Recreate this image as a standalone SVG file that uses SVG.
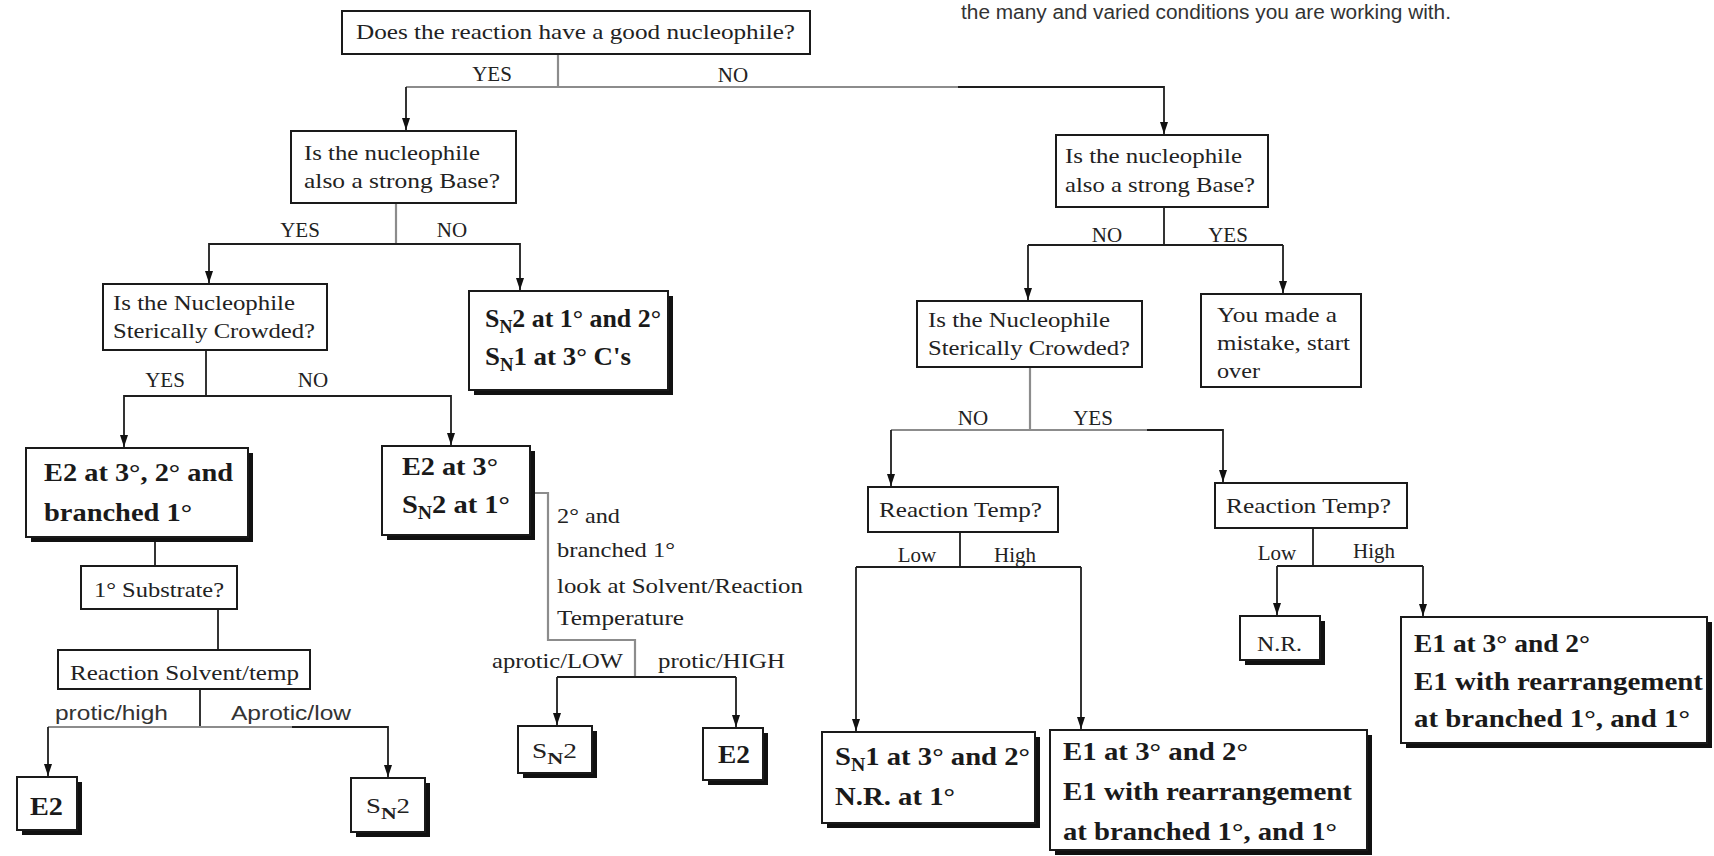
<svg xmlns="http://www.w3.org/2000/svg" width="1714" height="856" viewBox="0 0 1714 856">
<style>
.box{fill:#fff;stroke:#1a1a1a;stroke-width:2}
.sh{fill:#111}
.q{font-family:"Liberation Serif","Times New Roman",serif;font-size:21px;fill:#222}
.b{font-family:"Liberation Serif","Times New Roman",serif;font-weight:bold;font-size:26px;fill:#1a1a1a}
.s{font-family:"Liberation Sans",Arial,sans-serif;font-size:20px;fill:#333}
.m{text-anchor:middle}
.c{fill:none;stroke:#1e1e1e;stroke-width:1.8}
.cg{fill:none;stroke:#8c8c8c;stroke-width:2.2}
.a{marker-end:url(#arr)}
</style>
<defs>
<marker id="arr" viewBox="0 0 12 8" markerWidth="12" markerHeight="8" refX="12" refY="4" orient="auto" markerUnits="userSpaceOnUse">
<path d="M0,0 L12,4 L0,8 z" fill="#111"/>
</marker>
</defs>
<rect width="1714" height="856" fill="#fff"/>
<text class="s" x="961" y="19" font-size="15" textLength="490" lengthAdjust="spacingAndGlyphs">the many and varied conditions you are working with.</text>

<g id="connectors">
<path class="cg" d="M558,54 V87"/>
<path class="cg" d="M558,87 H406"/>
<path class="c a" d="M406,87 V130"/>
<path class="cg" d="M558,87 H958"/>
<path class="c a" d="M958,87 H1164 V134"/>
<path class="cg" d="M396,203 V244"/>
<path class="c a" d="M396,244 H209 V283"/>
<path class="c a" d="M396,244 H520 V290"/>
<path class="c" d="M206,350 V396"/>
<path class="c a" d="M206,396 H124 V447"/>
<path class="c a" d="M206,396 H451 V445"/>
<path class="c" d="M155,537 V566"/>
<path class="c" d="M218,609 V650"/>
<path class="c" d="M200,689 V727"/>
<path class="cg" d="M48,727 H292"/>
<path class="c a" d="M48,727 V776"/>
<path class="c a" d="M292,727 H388 V777"/>
<path class="cg" d="M530,493 H548 V640 H635 V677"/>
<path class="c" d="M557,677 H736"/>
<path class="c a" d="M557,677 V725"/>
<path class="c a" d="M736,677 V727"/>
<path class="c" d="M1164,207 V245"/>
<path class="c" d="M1028,245 H1283"/>
<path class="c a" d="M1028,245 V300"/>
<path class="c a" d="M1283,245 V293"/>
<path class="cg" d="M1030,367 V430"/>
<path class="cg" d="M891,430 H1147"/>
<path class="c a" d="M891,430 V486"/>
<path class="c a" d="M1147,430 H1223 V482"/>
<path class="c" d="M960,532 V567"/>
<path class="c" d="M856,567 H1081"/>
<path class="c a" d="M856,567 V731"/>
<path class="c a" d="M1081,567 V729"/>
<path class="c" d="M1313,528 V566"/>
<path class="c" d="M1277,566 H1423"/>
<path class="c a" d="M1277,566 V615"/>
<path class="c a" d="M1423,566 V616"/>
</g>

<g id="labels">
<text class="q m" x="492" y="81">YES</text>
<text class="q m" x="733" y="82">NO</text>
<text class="q m" x="300" y="237">YES</text>
<text class="q m" x="452" y="237">NO</text>
<text class="q m" x="165" y="387">YES</text>
<text class="q m" x="313" y="387">NO</text>
<text class="q m" x="1107" y="242">NO</text>
<text class="q m" x="1228" y="242">YES</text>
<text class="q m" x="973" y="425">NO</text>
<text class="q m" x="1093" y="425">YES</text>
<text class="q m" x="917" y="562">Low</text>
<text class="q m" x="1015" y="562">High</text>
<text class="q m" x="1277" y="560">Low</text>
<text class="q m" x="1374" y="558">High</text>
<text class="q" x="492" y="668" textLength="131" lengthAdjust="spacingAndGlyphs">aprotic/LOW</text>
<text class="q" x="658" y="668" textLength="127" lengthAdjust="spacingAndGlyphs">protic/HIGH</text>
<text class="s" x="55" y="720" textLength="113" lengthAdjust="spacingAndGlyphs">protic/high</text>
<text class="s" x="231" y="720" textLength="120" lengthAdjust="spacingAndGlyphs">Aprotic/low</text>
<text class="q" x="557" y="523" textLength="63" lengthAdjust="spacingAndGlyphs">2° and</text>
<text class="q" x="557" y="557" textLength="118" lengthAdjust="spacingAndGlyphs">branched 1°</text>
<text class="q" x="557" y="593" textLength="246" lengthAdjust="spacingAndGlyphs">look at Solvent/Reaction</text>
<text class="q" x="557" y="625" textLength="127" lengthAdjust="spacingAndGlyphs">Temperature</text>
</g>

<g id="n-top">
<rect class="box" x="342" y="11" width="468" height="43"/>
<text class="q" x="356" y="39" textLength="439" lengthAdjust="spacingAndGlyphs">Does the reaction have a good nucleophile?</text>
</g>
<g id="n-l1">
<rect class="box" x="291" y="131" width="225" height="72"/>
<text class="q" x="304" y="160" textLength="176" lengthAdjust="spacingAndGlyphs">Is the nucleophile</text>
<text class="q" x="304" y="188" textLength="196" lengthAdjust="spacingAndGlyphs">also a strong Base?</text>
</g>
<g id="n-r1">
<rect class="box" x="1056" y="135" width="212" height="72"/>
<text class="q" x="1065" y="163" textLength="177" lengthAdjust="spacingAndGlyphs">Is the nucleophile</text>
<text class="q" x="1065" y="192" textLength="190" lengthAdjust="spacingAndGlyphs">also a strong Base?</text>
</g>
<g id="n-l3">
<rect class="box" x="103" y="284" width="224" height="66"/>
<text class="q" x="113" y="310" textLength="182" lengthAdjust="spacingAndGlyphs">Is the Nucleophile</text>
<text class="q" x="113" y="338" textLength="202" lengthAdjust="spacingAndGlyphs">Sterically Crowded?</text>
</g>
<g id="n-sn2sn1">
<rect class="sh" x="474" y="296" width="199" height="99"/>
<rect class="box" x="469" y="291" width="199" height="99"/>
<text class="b" x="485" y="327" textLength="176" lengthAdjust="spacingAndGlyphs">S<tspan dy="6" font-size="18">N</tspan><tspan dy="-6">2 at 1° and 2°</tspan></text>
<text class="b" x="485" y="365" textLength="146" lengthAdjust="spacingAndGlyphs">S<tspan dy="6" font-size="18">N</tspan><tspan dy="-6">1 at 3° C's</tspan></text>
</g>
<g id="n-e2left">
<rect class="sh" x="31" y="453" width="222" height="89"/>
<rect class="box" x="26" y="448" width="222" height="89"/>
<text class="b" x="44" y="481" textLength="189" lengthAdjust="spacingAndGlyphs">E2 at 3°, 2° and</text>
<text class="b" x="44" y="521" textLength="148" lengthAdjust="spacingAndGlyphs">branched 1°</text>
</g>
<g id="n-e2at3">
<rect class="sh" x="387" y="451" width="148" height="89"/>
<rect class="box" x="382" y="446" width="148" height="89"/>
<text class="b" x="402" y="475" textLength="96" lengthAdjust="spacingAndGlyphs">E2 at 3°</text>
<text class="b" x="402" y="513" textLength="108" lengthAdjust="spacingAndGlyphs">S<tspan dy="6" font-size="18">N</tspan><tspan dy="-6">2 at 1°</tspan></text>
</g>
<g id="n-sub">
<rect class="box" x="81" y="566" width="156" height="43"/>
<text class="q" x="94" y="597" textLength="130" lengthAdjust="spacingAndGlyphs">1° Substrate?</text>
</g>
<g id="n-solv">
<rect class="box" x="58" y="650" width="252" height="39"/>
<text class="q" x="70" y="680" textLength="229" lengthAdjust="spacingAndGlyphs">Reaction Solvent/temp</text>
</g>
<g id="n-e2bl">
<rect class="sh" x="22" y="782" width="60" height="53"/>
<rect class="box" x="17" y="777" width="60" height="53"/>
<text class="b" x="30" y="815" textLength="33" lengthAdjust="spacingAndGlyphs">E2</text>
</g>
<g id="n-sn2bl">
<rect class="sh" x="356" y="783" width="74" height="54"/>
<rect class="box" x="351" y="778" width="74" height="54"/>
<text class="q" x="366" y="813" font-size="24" textLength="44" lengthAdjust="spacingAndGlyphs">S<tspan dy="6" font-size="17" font-weight="bold">N</tspan><tspan dy="-6">2</tspan></text>
</g>
<g id="n-sn2m">
<rect class="sh" x="523" y="731" width="74" height="47"/>
<rect class="box" x="518" y="726" width="74" height="47"/>
<text class="q" x="532" y="758" font-size="24" textLength="45" lengthAdjust="spacingAndGlyphs">S<tspan dy="6" font-size="17" font-weight="bold">N</tspan><tspan dy="-6">2</tspan></text>
</g>
<g id="n-e2m">
<rect class="sh" x="708" y="733" width="60" height="52"/>
<rect class="box" x="703" y="728" width="60" height="52"/>
<text class="b" x="718" y="763" textLength="32" lengthAdjust="spacingAndGlyphs">E2</text>
</g>
<g id="n-r3">
<rect class="box" x="917" y="301" width="225" height="66"/>
<text class="q" x="928" y="327" textLength="182" lengthAdjust="spacingAndGlyphs">Is the Nucleophile</text>
<text class="q" x="928" y="355" textLength="202" lengthAdjust="spacingAndGlyphs">Sterically Crowded?</text>
</g>
<g id="n-mistake">
<rect class="box" x="1201" y="294" width="160" height="93"/>
<text class="q" x="1217" y="322" textLength="120" lengthAdjust="spacingAndGlyphs">You made a</text>
<text class="q" x="1217" y="350" textLength="133" lengthAdjust="spacingAndGlyphs">mistake, start</text>
<text class="q" x="1217" y="378" textLength="43" lengthAdjust="spacingAndGlyphs">over</text>
</g>
<g id="n-rtl">
<rect class="box" x="868" y="487" width="190" height="45"/>
<text class="q" x="879" y="517" textLength="163" lengthAdjust="spacingAndGlyphs">Reaction Temp?</text>
</g>
<g id="n-rtr">
<rect class="box" x="1215" y="483" width="192" height="45"/>
<text class="q" x="1226" y="513" textLength="165" lengthAdjust="spacingAndGlyphs">Reaction Temp?</text>
</g>
<g id="n-nr">
<rect class="sh" x="1245" y="621" width="80" height="44"/>
<rect class="box" x="1240" y="616" width="80" height="44"/>
<text class="q" x="1257" y="651" font-size="22" textLength="45" lengthAdjust="spacingAndGlyphs">N.R.</text>
</g>
<g id="n-sn1">
<rect class="sh" x="827" y="737" width="213" height="91"/>
<rect class="box" x="822" y="732" width="213" height="91"/>
<text class="b" x="835" y="765" textLength="195" lengthAdjust="spacingAndGlyphs">S<tspan dy="6" font-size="18">N</tspan><tspan dy="-6">1 at 3° and 2°</tspan></text>
<text class="b" x="835" y="805" textLength="120" lengthAdjust="spacingAndGlyphs">N.R. at 1°</text>
</g>
<g id="n-e1m">
<rect class="sh" x="1055" y="735" width="317" height="120"/>
<rect class="box" x="1050" y="730" width="317" height="120"/>
<text class="b" x="1063" y="760" textLength="185" lengthAdjust="spacingAndGlyphs">E1 at 3° and 2°</text>
<text class="b" x="1063" y="800" textLength="289" lengthAdjust="spacingAndGlyphs">E1 with rearrangement</text>
<text class="b" x="1063" y="840" textLength="274" lengthAdjust="spacingAndGlyphs">at branched 1°, and 1°</text>
</g>
<g id="n-e1r">
<rect class="sh" x="1406" y="622" width="306" height="126"/>
<rect class="box" x="1401" y="617" width="306" height="126"/>
<text class="b" x="1414" y="652" textLength="176" lengthAdjust="spacingAndGlyphs">E1 at 3° and 2°</text>
<text class="b" x="1414" y="690" textLength="289" lengthAdjust="spacingAndGlyphs">E1 with rearrangement</text>
<text class="b" x="1414" y="727" textLength="276" lengthAdjust="spacingAndGlyphs">at branched 1°, and 1°</text>
</g>
</svg>
